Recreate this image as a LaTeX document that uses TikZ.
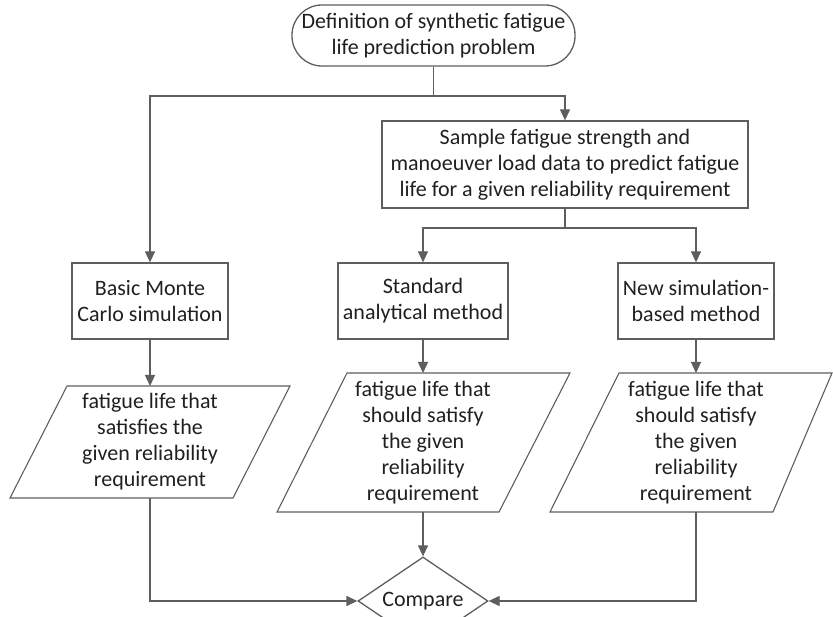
\documentclass[tikz,border=0pt]{standalone}
\usepackage{fontspec}
\setmainfont{Carlito}
\usetikzlibrary{arrows.meta,shapes.geometric}
\definecolor{ln}{HTML}{5E5E5E}
\definecolor{tx}{HTML}{202020}
\tikzset{
  base/.style={font=\fontsize{22}{26}\selectfont, text=tx, align=center, inner sep=0pt},
  boxnode/.style={base, draw=ln, line width=1.3pt, rectangle},
  termnode/.style={base, draw=ln, line width=1.3pt, rounded corners=30pt},
  cmpnode/.style={base, draw=ln, line width=1.3pt, diamond, aspect=1.48},
  para/.style={draw=ln, line width=1.1pt, line join=miter},
  conn/.style={draw=ln, line width=1.3pt},
  arr/.style={conn, -{Triangle[length=11pt,width=10pt]}},
}
\begin{document}
\begin{tikzpicture}[x=1pt,y=-1pt]
\useasboundingbox (0,0) rectangle (833,617);
% nodes
\node[termnode, minimum width=283pt, minimum height=61pt] (term) at (433.5,35.5)
  {Definition of synthetic fatigue\\life prediction problem};
\node[boxnode, minimum width=366pt, minimum height=87pt] (sample) at (565,164.5)
  {Sample fatigue strength and\\manoeuver load data to predict fatigue\\life for a given reliability requirement};
\node[boxnode, minimum width=156pt, minimum height=76pt] (basic) at (150,301)
  {Basic Monte\\Carlo simulation};
\node[boxnode, minimum width=170pt, minimum height=76pt] (std) at (423,301)
  {Standard\\analytical method};
\node[boxnode, minimum width=156pt, minimum height=76pt] (new) at (696,301)
  {New simulation-\\based method};
% parallelograms
\coordinate (lpT) at (150,386); \coordinate (lpB) at (150,498);
\coordinate (mpT) at (423,373); \coordinate (mpB) at (423,512);
\coordinate (rpT) at (696,373); \coordinate (rpB) at (696,512);
\draw[para] (67,386) -- (290,386) -- (233,498) -- (10,498) -- cycle;
\draw[para] (347,373) -- (570,373) -- (499,512) -- (277,512) -- cycle;
\draw[para] (619,373) -- (832,373) -- (773,512) -- (550,512) -- cycle;
\node[base] (lp) at (150,442) {fatigue life that\\satisfies the\\given reliability\\requirement};
\node[base] (mp) at (423,442.5) {fatigue life that\\should satisfy\\the given\\reliability\\requirement};
\node[base] (rp) at (696,442.5) {fatigue life that\\should satisfy\\the given\\reliability\\requirement};
% compare
\node[cmpnode, minimum width=130pt, minimum height=88pt] (cmp) at (423,601) {Compare};
% connectors
\coordinate (j0) at (term.south |- 0,96);
\coordinate (j1) at (sample.south |- 0,228);
\draw[conn] (term.south) -- (j0);
\draw[arr] (j0) -| (basic.north);
\draw[arr] (j0) -| (sample.north);
\draw[conn] (sample.south) -- (j1);
\draw[arr] (j1) -| (std.north);
\draw[arr] (j1) -| (new.north);
\draw[arr] (basic.south) -- (lpT);
\draw[arr] (std.south) -- (mpT);
\draw[arr] (new.south) -- (rpT);
\draw[arr] (lpB) |- (cmp.west);
\draw[arr] (mpB) -- (cmp.north);
\draw[arr] (rpB) |- (cmp.east);
\end{tikzpicture}
\end{document}
